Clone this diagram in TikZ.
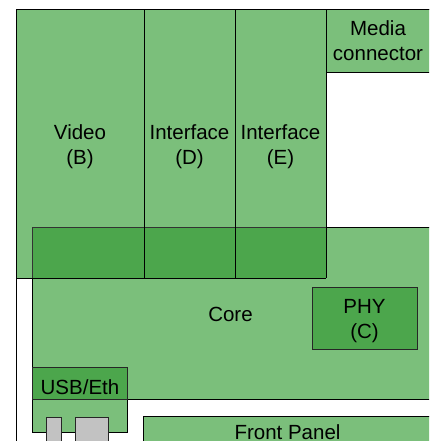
\documentclass[tikz,border=0pt]{standalone}
\usepackage{fontspec}
\setmainfont{Liberation Sans}
\definecolor{boxlight}{RGB}{123,191,123}
\definecolor{boxdark}{RGB}{76,166,76}
\definecolor{connectorgray}{RGB}{194,194,194}
\definecolor{paperwhite}{RGB}{255,255,255}
\tikzset{
  lightbox/.style={draw=black, line width=0.9pt, fill=boxlight},
  darkbox/.style={draw=black!85, line width=0.9pt, fill=boxdark},
  graybox/.style={draw=black!85, line width=0.9pt, fill=connectorgray},
  lbl/.style={anchor=base, inner sep=0pt, font=\fontsize{20.5}{25}\selectfont}
}
\begin{document}
\begin{tikzpicture}
\useasboundingbox (0pt,0pt) rectangle (429pt,-441pt);
\begin{scope}[x=1pt, y=-1pt]
\clip (0,0) rectangle (429,441);
\fill[paperwhite] (0,0) rectangle (429,441);
% columns
\draw[lightbox] (16,9) rectangle (144,278);
\draw[lightbox] (144,9) rectangle (235,278);
\draw[lightbox] (235,9) rectangle (326,278);
% media connector
\draw[lightbox] (326,9) rectangle (440,72);
% core
\draw[lightbox] (32,227) rectangle (470,399);
% overlap of core and columns
\fill[boxdark] (32,227) rectangle (326,278);
\draw[black!80, line width=0.9pt] (32,278) -- (32,227) -- (326,227);
\draw[black, line width=0.9pt] (144,227) -- (144,278) (235,227) -- (235,278) (326,227) -- (326,278) (16,278) -- (326,278);
% PHY
\draw[darkbox] (312,287) rectangle (417,349);
% front panel
\draw[lightbox] (143,416) rectangle (432,480);
% USB/Eth
\draw[lightbox] (32,367) rectangle (127,432);
\draw[darkbox] (32,367) rectangle (127,399);
% connectors
\draw[graybox] (46,417) rectangle (61,460);
\draw[graybox] (75,417) rectangle (108,460);
% outer frame lines
\draw[black, line width=0.9pt] (16,480) -- (16,9) -- (440,9);
% labels
\node[lbl] (videoA) at (80,139) {Video};
\node[lbl] (videoB) at (80,164) {(B)};
\node[lbl] (ifdA) at (189.5,139) {Interface};
\node[lbl] (ifdB) at (189.5,164) {(D)};
\node[lbl] (ifeA) at (280.5,139) {Interface};
\node[lbl] (ifeB) at (280.5,164) {(E)};
\node[lbl] (mediaA) at (378,36) {Media};
\node[lbl] (mediaB) at (378,61) {connector};
\node[lbl] (core) at (230.5,321) {Core};
\node[lbl] (phyA) at (364.5,313) {PHY};
\node[lbl] (phyB) at (364.5,338) {(C)};
\node[lbl] (usb) at (80,394) {USB/Eth};
\node[lbl] (front) at (287.5,439) {Front Panel};
\end{scope}
\end{tikzpicture}
\end{document}
